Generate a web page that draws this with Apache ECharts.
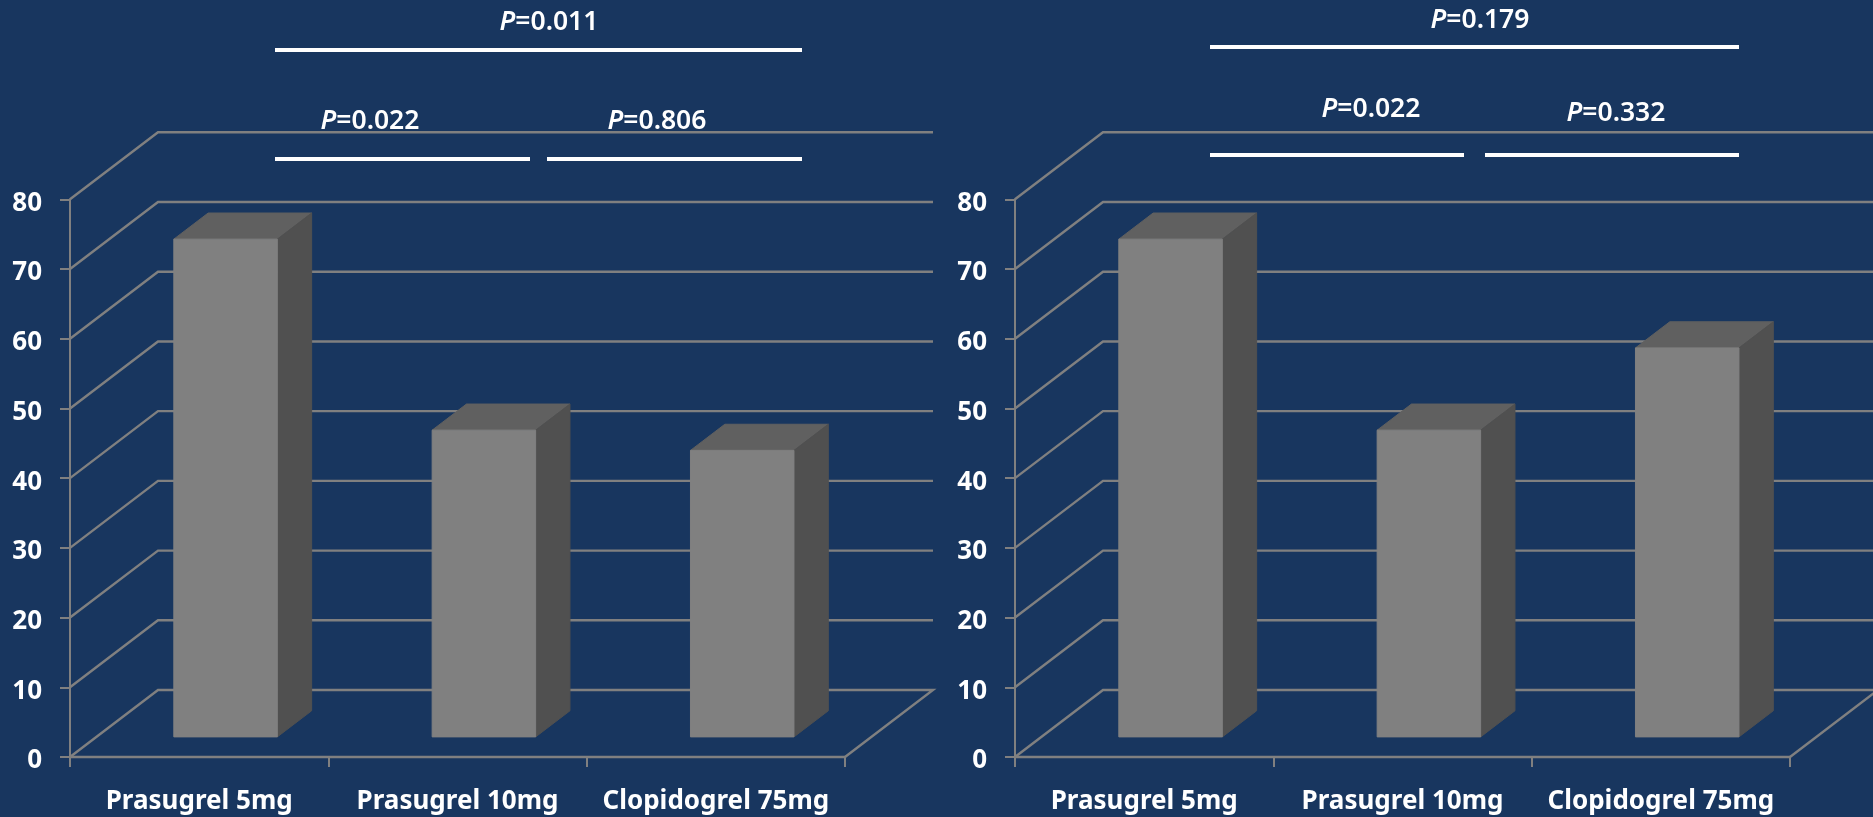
<!DOCTYPE html>
<html>
<head>
<meta charset="utf-8">
<style>html,body{margin:0;padding:0;background:#18365f}#chart{width:1873px;height:817px}</style>
<script src="https://cdn.jsdelivr.net/npm/echarts@6/dist/echarts.min.js"></script>
</head>
<body>
<div id="chart"></div>
<script>
// Percent of patients per treatment arm, two panels side by side
const categories = ['Prasugrel 5mg', 'Prasugrel 10mg', 'Clopidogrel 75mg'];
const leftValues = [71.4, 44, 41.1];
const rightValues = [71.4, 44, 55.8];
const yTicks = [0, 10, 20, 30, 40, 50, 60, 70, 80];

// Pairwise comparison labels and the groups each one spans
const leftPValues = ['0.011', '0.022', '0.806'];
const rightPValues = ['0.179', '0.022', '0.332'];

// Oblique depth of the pseudo-3D box, in pixels
const DEPTH_X = 88, DEPTH_Y = 67;
const BAR_DEPTH = 0.39, BAR_OFFSET = 0.3, BAR_WIDTH = 103.5;

const GRID_TOP = 199.3, GRID_H = 557.7, GRID_W = 775;
const gridColor = '#808080';
const fontFamily = '"Noto Sans", "Open Sans", sans-serif';

function renderWall(params, api) {
  const cs = params.coordSys;
  const y = api.coord([0, api.value(1)])[1];
  const pts = [[cs.x, y], [cs.x + DEPTH_X, y - DEPTH_Y], [cs.x + cs.width + DEPTH_X, y - DEPTH_Y]];
  if (api.value(1) === 0) pts.push([cs.x + cs.width, y]);
  return {
    type: 'polyline',
    shape: { points: pts },
    style: { stroke: gridColor, lineWidth: 2.4, fill: null },
    silent: true
  };
}

function renderBar(params, api) {
  const cx = api.coord([api.value(0), 0])[0];
  const top = api.coord([0, api.value(1)])[1];
  const base = api.coord([0, 0])[1];
  const ox = DEPTH_X * BAR_OFFSET, oy = DEPTH_Y * BAR_OFFSET;
  const dx = DEPTH_X * BAR_DEPTH, dy = DEPTH_Y * BAR_DEPTH;
  const l = cx - BAR_WIDTH / 2 + ox, r = l + BAR_WIDTH;
  const t = top - oy, b = base - oy;
  const face = (points, fill) => ({
    type: 'polygon',
    shape: { points },
    style: { fill, stroke: fill, lineWidth: 1 }
  });
  return {
    type: 'group',
    children: [
      face([[l, t], [r, t], [r + dx, t - dy], [l + dx, t - dy]], '#606060'),
      face([[r, t], [r + dx, t - dy], [r + dx, b - dy], [r, b]], '#505050'),
      face([[l, t], [r, t], [r, b], [l, b]], '#808080')
    ]
  };
}

const panels = [
  { left: 70, values: leftValues },
  { left: 1015, values: rightValues }
];

const option = {
  backgroundColor: '#18365f',
  animation: false,
  grid: panels.map(p => ({ left: p.left, top: GRID_TOP, width: GRID_W, height: GRID_H })),
  xAxis: panels.map((p, i) => ({
    type: 'category',
    gridIndex: i,
    data: categories,
    axisLine: { lineStyle: { color: gridColor, width: 2.4 } },
    axisTick: { show: true, length: 10, lineStyle: { color: gridColor, width: 2 } },
    axisLabel: { color: '#fff', fontFamily, fontWeight: 700, fontSize: 26, margin: 32, interval: 0 }
  })),
  yAxis: panels.map((p, i) => ({
    type: 'value',
    gridIndex: i,
    min: 0,
    max: 80,
    interval: 10,
    splitLine: { show: false },
    axisLine: { show: true, lineStyle: { color: gridColor, width: 2 } },
    axisTick: { show: true, length: 10, lineStyle: { color: gridColor, width: 2 } },
    axisLabel: { color: '#fff', fontFamily, fontWeight: 700, fontSize: 26, margin: 28, verticalAlign: 'top', lineHeight: 8 }
  })),
  series: panels.flatMap((p, i) => [
    {
      type: 'custom',
      xAxisIndex: i,
      yAxisIndex: i,
      z: 1,
      clip: false,
      renderItem: renderWall,
      encode: { x: 0, y: 1 },
      data: yTicks.map(v => [0, v])
    },
    {
      type: 'custom',
      xAxisIndex: i,
      yAxisIndex: i,
      z: 2,
      clip: false,
      renderItem: renderBar,
      encode: { x: 0, y: 1 },
      data: p.values.map((v, k) => [k, v])
    }
  ]),
  graphic: { elements: [] }
};

// Brackets and P labels above the bars
function bracket(x1, x2, y) {
  return { type: 'rect', z: 10, shape: { x: x1, y: y - 2, width: x2 - x1, height: 4 }, style: { fill: '#fff' } };
}
function pLabel(value, x, y) {
  return {
    type: 'text', z: 10, x, y,
    style: {
      text: '{i|P}{n|=' + value + '}',
      align: 'center',
      verticalAlign: 'middle',
      fill: '#fff',
      rich: {
        i: { fontStyle: 'italic', fontWeight: 600, fontSize: 26.5, fontFamily, fill: '#fff' },
        n: { fontWeight: 600, fontSize: 26.5, fontFamily, fill: '#fff' }
      }
    }
  };
}
option.graphic.elements.push(
  bracket(275, 802, 50), bracket(275, 530, 159), bracket(547, 802, 159),
  pLabel(leftPValues[0], 549, 22), pLabel(leftPValues[1], 370, 121), pLabel(leftPValues[2], 657, 121),
  bracket(1210, 1739, 47), bracket(1210, 1464, 155), bracket(1485, 1739, 155),
  pLabel(rightPValues[0], 1480, 20), pLabel(rightPValues[1], 1371, 109), pLabel(rightPValues[2], 1616, 113)
);

echarts.init(document.getElementById('chart')).setOption(option);
</script>
</body>
</html>
